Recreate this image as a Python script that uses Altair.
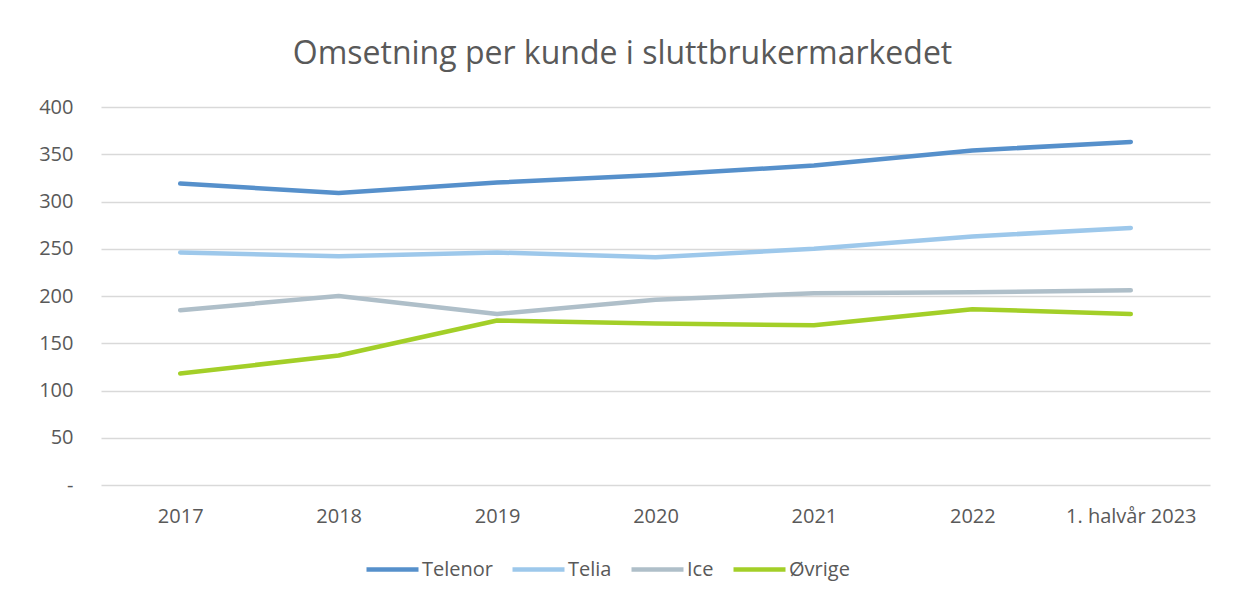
import altair as alt
import pandas as pd

periods = ["2017", "2018", "2019", "2020", "2021", "2022", "1. halvår 2023"]
series = ["Telenor", "Telia", "Ice", "Øvrige"]
telenor = [319, 309, 320, 328, 338, 354, 363]
telia = [246, 242, 246, 241, 250, 263, 272]
ice = [185, 200, 181, 196, 203, 204, 206]
ovrige = [118, 137, 174, 171, 169, 186, 181]
colors = ["#5690CB", "#9DC8EB", "#AFBFC9", "#A3CF28"]

rows = []
for name, vals in zip(series, [telenor, telia, ice, ovrige]):
    for p, v in zip(periods, vals):
        rows.append({"Periode": p, "Aktør": name, "Verdi": v})
df = pd.DataFrame(rows)

FONT = "Open Sans"
TXT = "#595959"
GRID = "#D9D9D9"

chart = alt.Chart(df).mark_line(strokeWidth=4.5, strokeCap="round", strokeJoin="round").encode(
    x=alt.X("Periode:N", sort=periods, scale=alt.Scale(padding=0.5),
            axis=alt.Axis(title=None, labelAngle=0, domain=False, ticks=False, tickSize=0,
                          labelPadding=21, labelFontSize=20, labelFont=FONT, labelColor=TXT, grid=False)),
    y=alt.Y("Verdi:Q", scale=alt.Scale(domain=[0, 400]),
            axis=alt.Axis(title=None, values=[0, 50, 100, 150, 200, 250, 300, 350, 400],
                          labelExpr="datum.value == 0 ? '-\u00a0\u00a0' : datum.label",
                          domain=False, ticks=False, tickSize=0, labelPadding=28,
                          labelFontSize=20, labelFont=FONT, labelColor=TXT,
                          grid=True, gridColor=GRID, gridWidth=1.3)),
    color=alt.Color("Aktør:N", sort=series,
                    scale=alt.Scale(domain=series, range=colors),
                    legend=alt.Legend(title=None, orient="none", direction="horizontal",
                                      legendX=263, legendY=434, symbolType="stroke",
                                      symbolSize=2704, symbolStrokeWidth=4.5,
                                      labelFontSize=20, labelFont=FONT, labelColor=TXT,
                                      labelOffset=1, columnPadding=10, gridAlign="none",
                                      padding=0)),
    order=alt.Order("Aktør:N"),
).properties(
    width=1109,
    height=378,
    title=alt.TitleParams("Omsetning per kunde i sluttbrukermarkedet", fontSize=32,
                          font=FONT, fontWeight="normal", color=TXT, anchor="middle",
                          baseline="alphabetic", offset=1, dx=-33),
    autosize=alt.AutoSizeParams(type="none"),
    padding={"left": 93, "top": 99, "right": 18, "bottom": 110},
).configure(background="white").configure_view(stroke=None, strokeWidth=0)

chart.save("out.html", embed_options={"renderer": "svg", "actions": False})
